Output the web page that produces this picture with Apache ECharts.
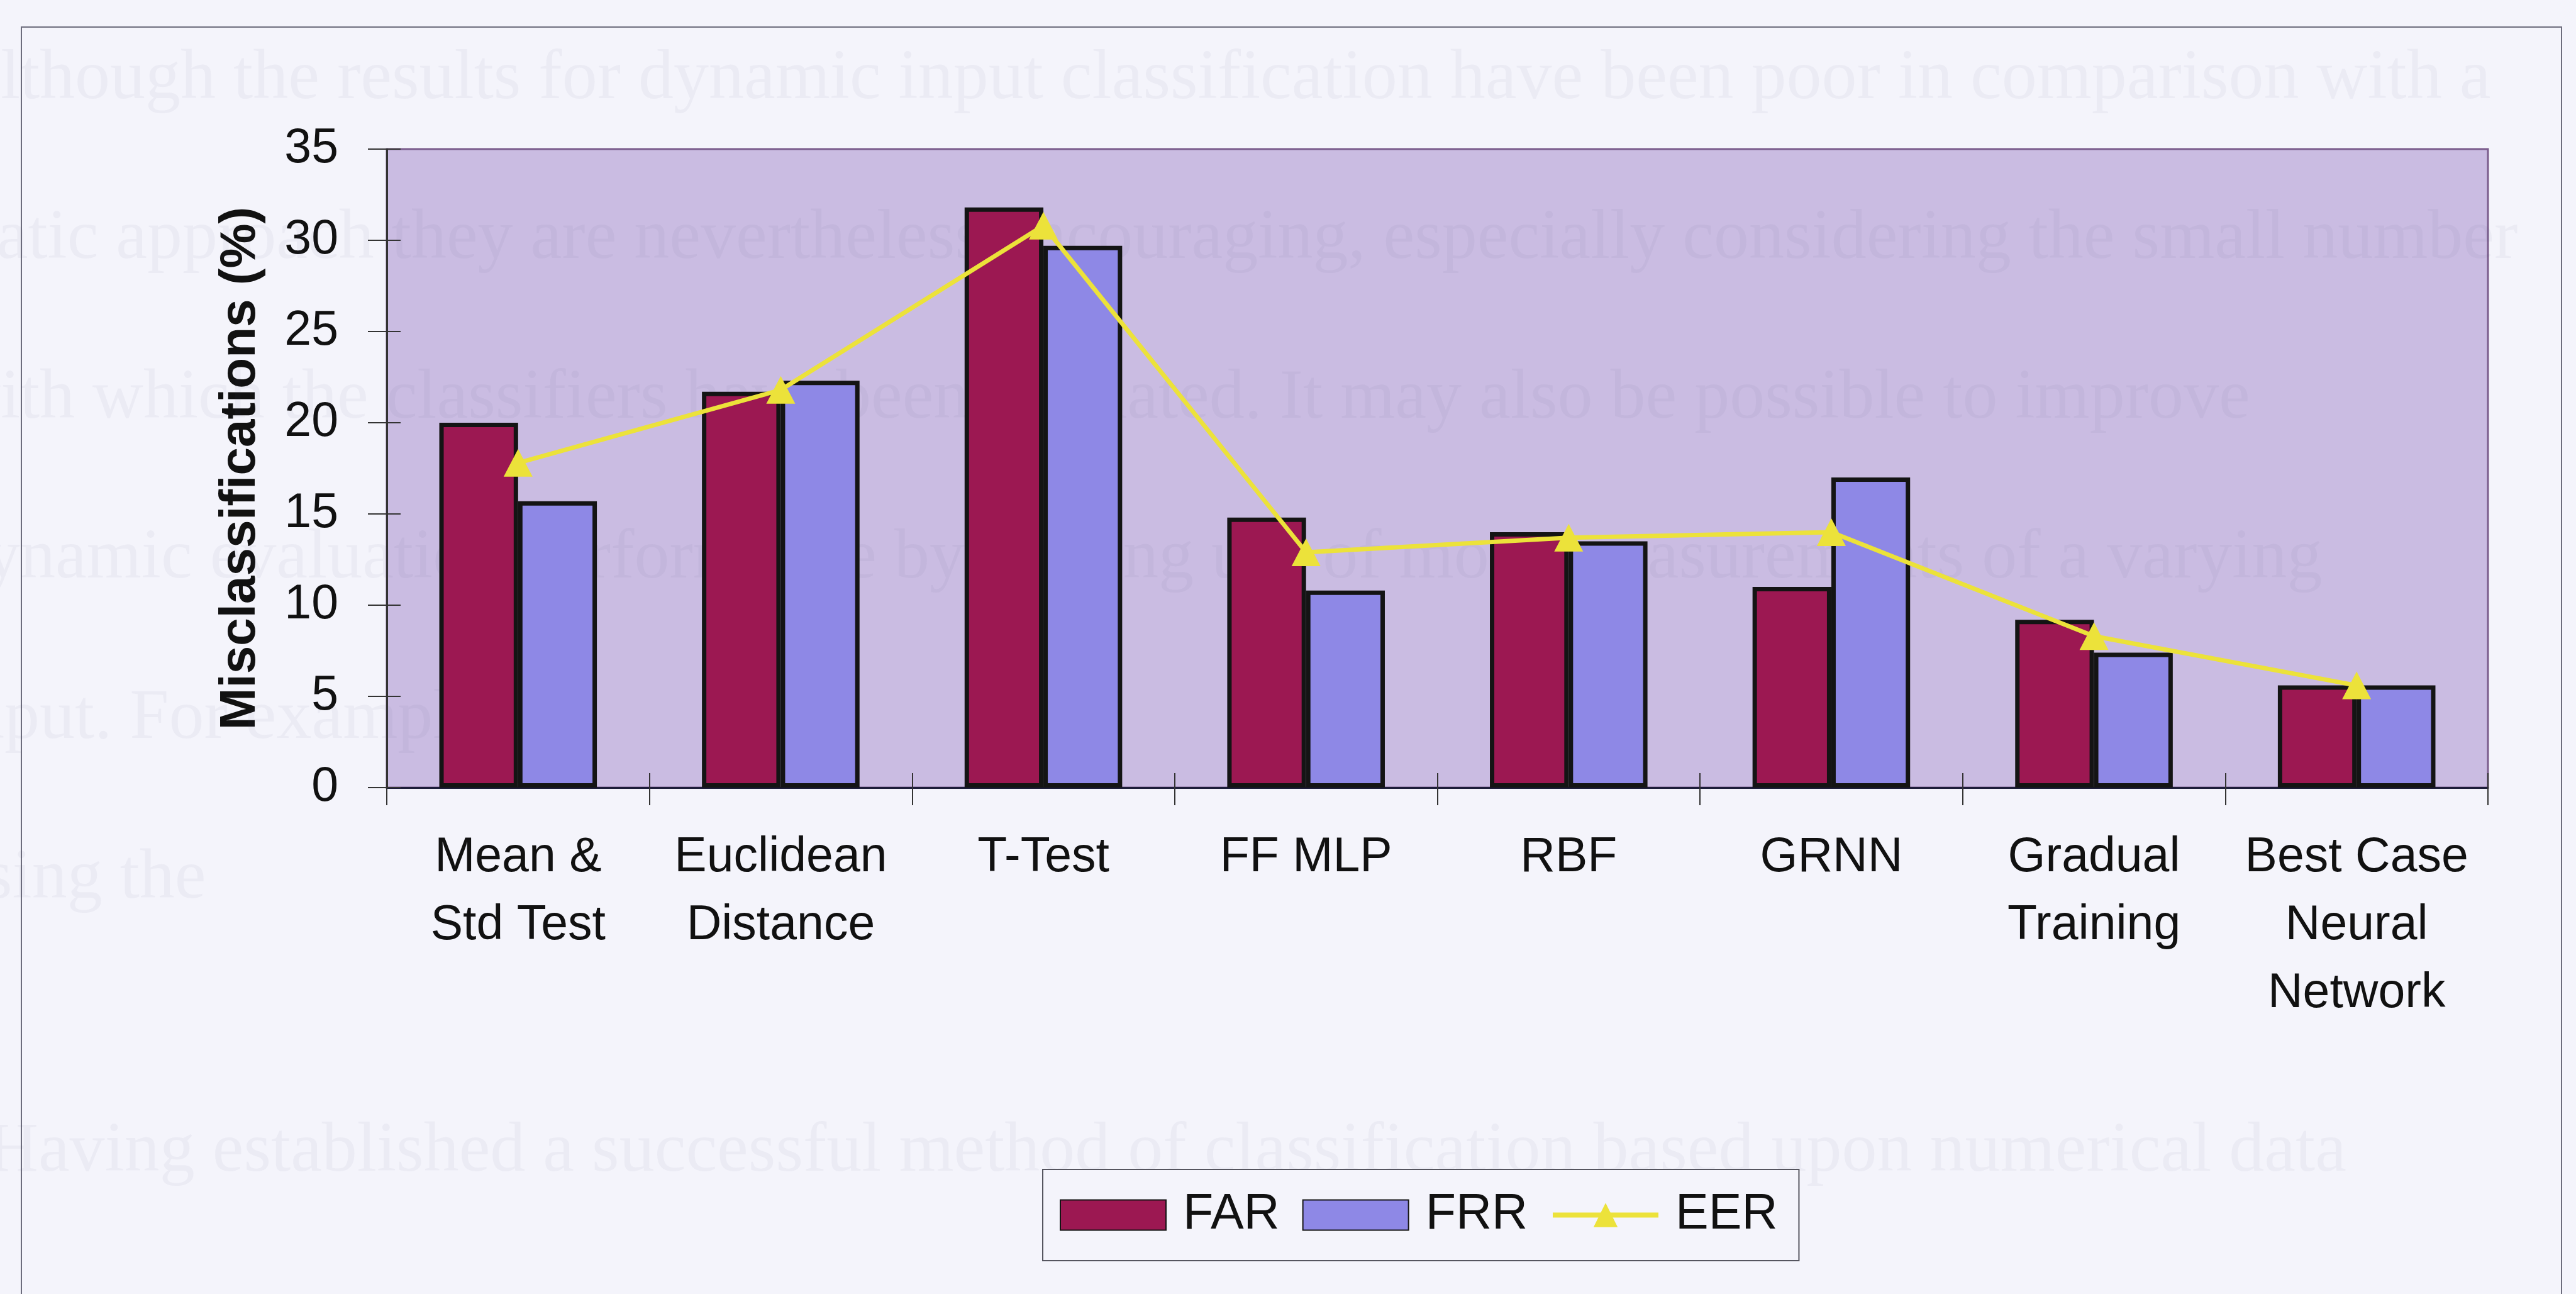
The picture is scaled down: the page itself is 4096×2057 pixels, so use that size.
<!DOCTYPE html>
<html>
<head>
<meta charset="utf-8">
<script src="https://cdn.jsdelivr.net/npm/echarts@6/dist/echarts.min.js"></script>
<style>
  html, body { margin: 0; padding: 0; background: #f4f4fb; }
  #chart { width: 4096px; height: 2057px; }
</style>
</head>
<body>
<div id="chart"></div>
<script>
// Methods compared, and their error rates (%)
const categories = [
  'Mean &\nStd Test',
  'Euclidean\nDistance',
  'T-Test',
  'FF MLP',
  'RBF',
  'GRNN',
  'Gradual\nTraining',
  'Best Case\nNeural\nNetwork'
];
const farValues = [20.0, 21.7, 31.8, 14.8, 14.0, 11.0, 9.2, 5.6];
const frrValues = [15.7, 22.3, 29.7, 10.8, 13.5, 17.0, 7.4, 5.6];
const eerValues = [17.8, 21.8, 30.8, 12.9, 13.7, 14.0, 8.3, 5.6];
const seriesNames = ['FAR', 'FRR', 'EER'];
const yMin = 0, yMax = 35, yStep = 5;
const yTitle = 'Misclassifications (%)';

// Faint lines of the page text showing through the printed figure
const pageLines = [
  'Although the results for dynamic input classification have been poor in comparison with a',
  'static approach they are nevertheless encouraging, especially considering the small number',
  'with which the classifiers have been validated. It may also be possible to improve',
  'dynamic evaluation performance by making use of more measurements of a varying',
  'input. For example,',
  'using the',
  'Having established a successful method of classification based upon numerical data'
];
const pageLineBaselines = [165, 419, 673, 927, 1182, 1436, 1870];

const sans = '"Liberation Sans", Arial, sans-serif';
const ink = '#111111';
const barBorder = '#141414';
const farColor = '#9c1852';
const frrColor = '#8e88e6';
const eerColor = '#ece23a';

const chart = echarts.init(document.getElementById('chart'), null, { renderer: 'canvas' });

const ghostText = pageLines.map((t, i) => ({
  type: 'text',
  z: 1,
  silent: true,
  style: {
    text: t,
    x: i === 6 ? -20 : -80,
    y: pageLineBaselines[i] - 38,
    verticalAlign: 'middle',
    font: '112px "Liberation Serif", "Times New Roman", serif',
    fill: 'rgba(70, 70, 110, 0.05)'
  }
}));

const option = {
  animation: false,
  backgroundColor: '#f4f4fb',
  graphic: [
    {
      type: 'rect',
      z: 0,
      silent: true,
      shape: { x: 34, y: 43, width: 4039, height: 2100 },
      style: { fill: 'none', stroke: '#6c6c7c', lineWidth: 2 }
    }
  ].concat(ghostText),
  grid: {
    left: 615,
    top: 237,
    right: 140,
    bottom: 805,
    show: true,
    backgroundColor: '#cabce2',
    borderColor: '#7a5c8c',
    borderWidth: 3,
    outerBoundsMode: 'none'
  },
  legend: {
    data: [
      { name: seriesNames[0], icon: 'rect' },
      { name: seriesNames[1], icon: 'rect' },
      { name: seriesNames[2], lineStyle: { width: 8, color: eerColor } }
    ],
    left: 1658,
    top: 1859,
    orient: 'horizontal',
    padding: [30, 34, 30, 27],
    itemGap: 36,
    itemWidth: 168,
    itemHeight: 48,
    borderColor: '#55555f',
    borderWidth: 2,
    backgroundColor: '#f4f4fb',
    textStyle: {
      fontFamily: sans,
      fontSize: 79,
      color: ink,
      lineHeight: 85,
      padding: [0, 0, 0, 22]
    }
  },
  xAxis: [
    {
      type: 'category',
      data: categories,
      axisLine: { show: true, lineStyle: { color: '#1d1d3a', width: 3 } },
      axisTick: { show: true, length: 28, lineStyle: { color: '#333333', width: 2 } },
      axisLabel: {
        interval: 0,
        fontFamily: sans,
        fontSize: 77,
        lineHeight: 108,
        margin: 58,
        color: ink
      },
      splitLine: { show: false }
    },
    {
      type: 'category',
      data: categories,
      gridIndex: 0,
      position: 'bottom',
      axisLine: { show: false },
      axisTick: { show: true, inside: true, length: 23, lineStyle: { color: '#333333', width: 2 } },
      axisLabel: { show: false },
      splitLine: { show: false }
    }
  ],
  yAxis: [
    {
      type: 'value',
      min: yMin,
      max: yMax,
      interval: yStep,
      axisLine: { show: true, lineStyle: { color: '#333333', width: 3 } },
      axisTick: { show: true, length: 30, lineStyle: { color: '#333333', width: 2 } },
      axisLabel: { fontFamily: sans, fontSize: 77, margin: 77, color: ink },
      splitLine: { show: false },
      name: yTitle,
      nameLocation: 'middle',
      nameRotate: 90,
      nameGap: 192,
      nameTextStyle: { fontFamily: sans, fontSize: 80, fontWeight: 'bold', color: ink }
    },
    {
      type: 'value',
      min: yMin,
      max: yMax,
      interval: yStep,
      position: 'left',
      axisLine: { show: false },
      axisTick: { show: true, inside: true, length: 22, lineStyle: { color: '#333333', width: 2 } },
      axisLabel: { show: false },
      splitLine: { show: false }
    }
  ],
  series: [
    {
      name: seriesNames[0],
      type: 'bar',
      data: farValues,
      barGap: '0%',
      barCategoryGap: '40%',
      itemStyle: { color: farColor, borderColor: barBorder, borderWidth: 7 },
      z: 2
    },
    {
      name: seriesNames[1],
      type: 'bar',
      data: frrValues,
      barGap: '0%',
      barCategoryGap: '40%',
      itemStyle: { color: frrColor, borderColor: barBorder, borderWidth: 7 },
      z: 2
    },
    {
      name: seriesNames[2],
      type: 'line',
      data: eerValues,
      symbol: 'triangle',
      symbolSize: [46, 44],
      lineStyle: { color: eerColor, width: 7 },
      itemStyle: { color: eerColor },
      z: 5
    }
  ]
};

chart.setOption(option);
</script>
</body>
</html>
